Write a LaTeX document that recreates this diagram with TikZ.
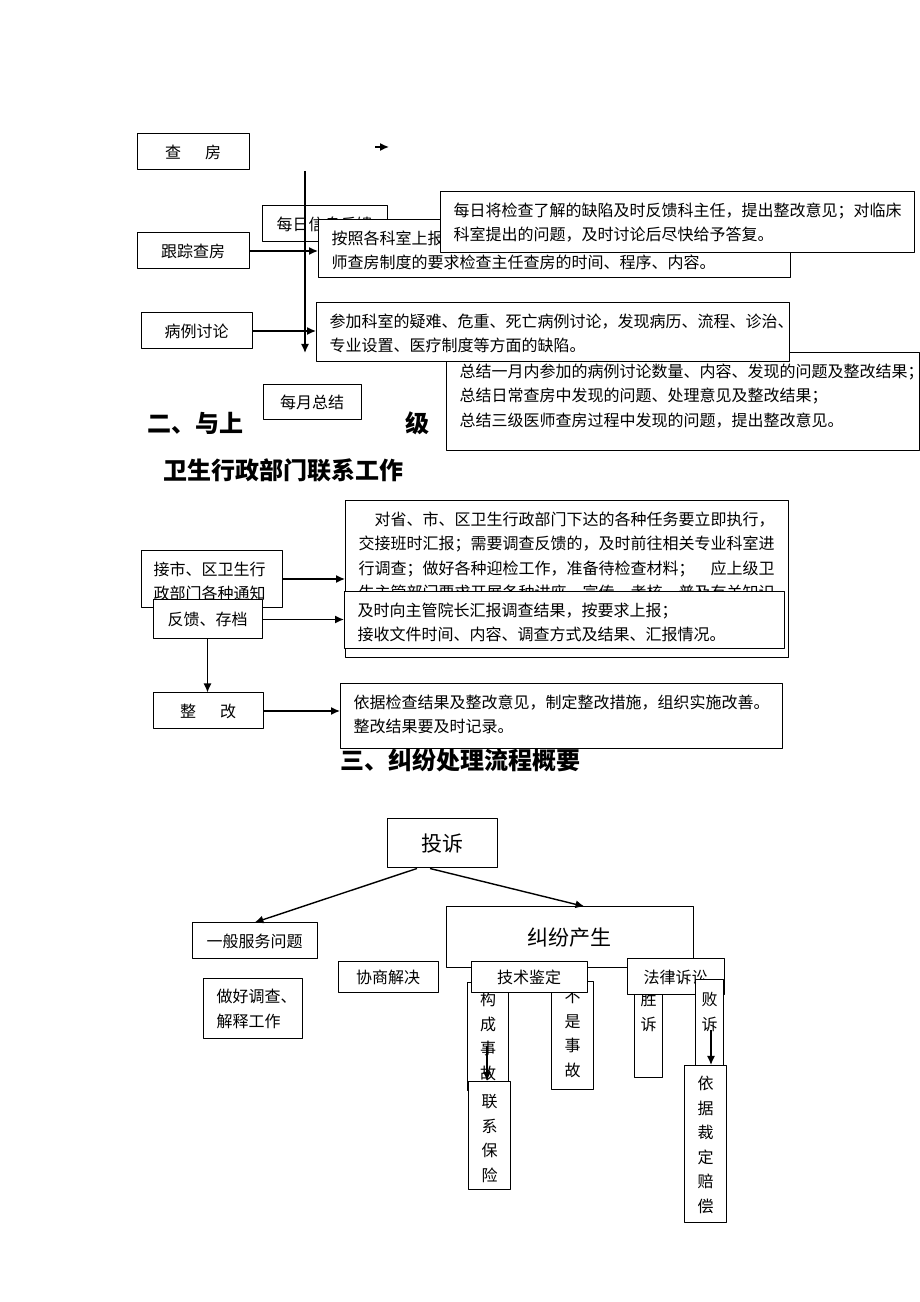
\documentclass[tikz,border=0pt]{standalone}
\usepackage{fontspec}
\setmainfont{Noto Sans CJK SC}
\usetikzlibrary{arrows.meta}
\newcommand{\tbtext}[3]{\parbox[t][#2][t]{#1}{#3}}
\begin{document}
\begin{tikzpicture}[>={Latex[length=9bp,width=8bp]},line join=bevel,
  sbox/.style={draw,fill=white,line width=1bp,inner sep=0pt,font=\fontsize{16bp}{24.5bp}\selectfont},
  tbox/.style={sbox,anchor=north west,inner xsep=13bp,inner ysep=11bp},
  bigbox/.style={sbox,font=\fontsize{21bp}{25bp}\selectfont},
  head/.style={inner sep=0pt,font=\bfseries\fontsize{24bp}{28bp}\selectfont},
  link/.style={black,line width=1.4bp,->},
]
\path[use as bounding box,fill=white] (0bp,0bp) rectangle (920bp,1302bp);
%% part one
\node (mx) at (324.5bp,1078bp) [sbox,minimum width=125bp,minimum height=36bp] {每日信息反馈};
  \node (az) at (318bp,1083bp) [tbox] {\tbtext{446bp}{36bp}{按照各科室上报的查房计划，根据三级医\\师查房制度的要求检查主任查房的时间、程序、内容。}};
  \node (mrj) at (440bp,1111bp) [tbox] {\tbtext{448bp}{39bp}{每日将检查了解的缺陷及时反馈科主任，提出整改意见；对临床\\科室提出的问题，及时讨论后尽快给予答复。}};
  \node (zj) at (446bp,950bp) [tbox] {\tbtext{447bp}{76bp}{总结一月内参加的病例讨论数量、内容、发现的问题及整改结果；\\总结日常查房中发现的问题、处理意见及整改结果；\\总结三级医师查房过程中发现的问题，提出整改意见。}};
  \node (cj) at (316bp,1000bp) [tbox] {\tbtext{447bp}{37bp}{参加科室的疑难、危重、死亡病例讨论，发现病历、流程、诊治、\\专业设置、医疗制度等方面的缺陷。}};
  \node (cf) at (193bp,1150bp) [sbox,minimum width=112bp,minimum height=36bp] {查\hspace{24bp}房};
  \node (gz) at (193bp,1051bp) [sbox,minimum width=112bp,minimum height=36bp] {跟踪查房};
  \node (bl) at (196.5bp,971bp) [sbox,minimum width=111bp,minimum height=36bp] {病例讨论};
  \node (my) at (312bp,899.5bp) [sbox,minimum width=98bp,minimum height=35bp] {每月总结};
  \node (h2a) at (147bp,879bp) [head,anchor=west] {二、与上};
  \node (h2b) at (417bp,879bp) [head] {级};
  \node (h2c) at (163bp,832bp) [head,anchor=west] {卫生行政部门联系工作};
  \coordinate (ta) at (375bp,1155bp);
  \coordinate (tb) at (389bp,1155bp);
  \coordinate (vt) at (305bp,1131bp);
  \coordinate (vb) at (305bp,949bp);
  \draw [link] (ta) -- (tb);
  \draw [link] (vt) -- (vb);
  \draw [link] (gz.east) -- (gz.east -| az.west);
  \draw [link] (bl.east) -- (bl.east -| cj.west);
%% part two
\node (dz) at (345bp,802bp) [tbox] {\tbtext{417bp}{135bp}{　对省、市、区卫生行政部门下达的各种任务要立即执行，\\交接班时汇报；需要调查反馈的，及时前往相关专业科室进\\行调查；做好各种迎检工作，准备待检查材料；　应上级卫\\生主管部门要求开展各种讲座、宣传、考核、普及有关知识}};
  \node (js) at (141bp,752bp) [tbox,inner xsep=12bp] {\tbtext{117bp}{35bp}{接市、区卫生行\\政部门各种通知}};
  \node (fk) at (207.5bp,682.5bp) [sbox,minimum width=109bp,minimum height=39bp] {反馈、存档};
  \node (jsx) at (344bp,711bp) [tbox] {\tbtext{414bp}{35bp}{及时向主管院长汇报调查结果，按要求上报；\\接收文件时间、内容、调查方式及结果、汇报情况。}};
  \node (h3) at (340bp,542bp) [head,anchor=west] {三、纠纷处理流程概要};
  \node (yj) at (340bp,619bp) [tbox] {\tbtext{416bp}{43bp}{依据检查结果及整改意见，制定整改措施，组织实施改善。\\整改结果要及时记录。}};
  \node (zg) at (208bp,591bp) [sbox,minimum width=110bp,minimum height=36bp] {整\hspace{24bp}改};
  \draw [link] (js.east) -- (js.east -| dz.west);
  \draw [link] (fk.east) -- (fk.east -| jsx.west);
  \draw [link] (fk.south) -- (fk.south |- zg.north);
  \draw [link] (zg.east) -- (zg.east -| yj.west);
%% part three
\node (ts) at (442bp,458.5bp) [bigbox,minimum width=110bp,minimum height=49bp] {投诉};
  \node (yb) at (254.5bp,361bp) [sbox,minimum width=125bp,minimum height=36bp] {一般服务问题};
  \node (jf) at (569.5bp,364.5bp) [bigbox,minimum width=247bp,minimum height=61bp] {纠纷产生};
  \node (xs) at (388bp,324.5bp) [sbox,minimum width=100bp,minimum height=31bp] {协商解决};
  \node (zh) at (203bp,324bp) [tbox] {\tbtext{73bp}{38bp}{做好调查、\\解释工作}};
  \node (gc) at (467bp,320bp) [tbox,inner xsep=12.5bp,inner ysep=10bp] {\tbtext{16bp}{88bp}{\centering 构\\成\\事\\故}};
  \node (bs) at (551bp,321bp) [tbox,inner xsep=13bp,inner ysep=9bp] {\tbtext{16bp}{90bp}{\centering 不\\是\\事\\故}};
  \node (jd) at (529bp,324.5bp) [sbox,minimum width=116bp,minimum height=31bp] {技术鉴定};
  \node (lx) at (468bp,221bp) [tbox,inner xsep=13bp,inner ysep=13bp] {\tbtext{16bp}{82bp}{\centering 联\\系\\保\\险}};
  \node (ss) at (634bp,317bp) [tbox,inner xsep=6bp,inner ysep=7bp] {\tbtext{16bp}{78bp}{\centering 胜\\诉}};
  \node (fl) at (675.5bp,325bp) [sbox,minimum width=97bp,minimum height=36bp] {法律诉讼};
  \node (bsu) at (695bp,323bp) [tbox,inner xsep=6bp,inner ysep=13bp] {\tbtext{16bp}{65bp}{\centering 败\\诉}};
  \node (yjp) at (684bp,237bp) [tbox,inner xsep=13bp,inner ysep=11bp] {\tbtext{16bp}{135bp}{\centering 依\\据\\裁\\定\\赔\\偿}};
  \coordinate (gca) at (487bp,256bp);
  \coordinate (bsa) at (711bp,272bp);
  \draw [link] ([xshift=-25bp]ts.south) -- (yb.north);
  \draw [link] ([xshift=-12bp]ts.south) -- ([xshift=15bp]jf.north);
  \draw [link] (gca) -- (gca |- lx.north);
  \draw [link] (bsa) -- (bsa |- yjp.north);
%
\end{tikzpicture}
\end{document}
